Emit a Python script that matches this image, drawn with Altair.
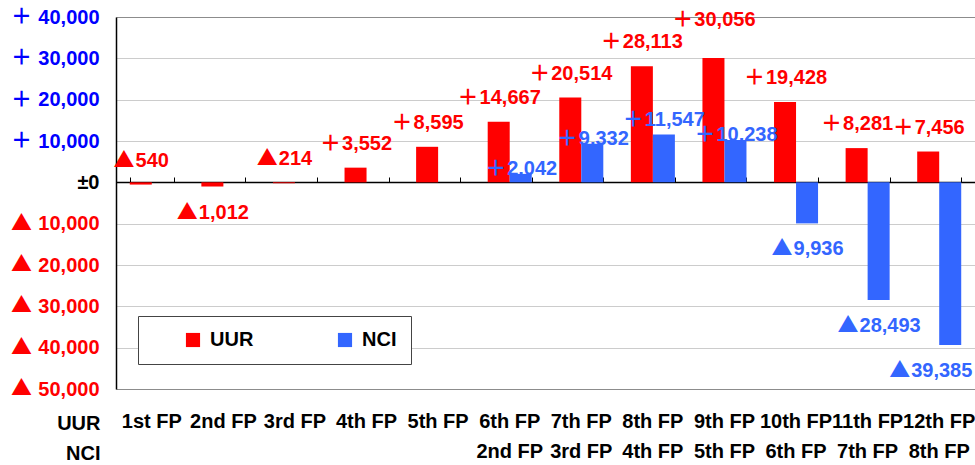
import altair as alt
import pandas as pd

uur_labels = ["1st FP", "2nd FP", "3rd FP", "4th FP", "5th FP", "6th FP",
              "7th FP", "8th FP", "9th FP", "10th FP", "11th FP", "12th FP"]
nci_labels = ["", "", "", "", "", "2nd FP", "3rd FP", "4th FP", "5th FP",
              "6th FP", "7th FP", "8th FP"]
uur_values = [-540, -1012, -214, 3552, 8595, 14667, 20514, 28113, 30056,
              19428, 8281, 7456]
nci_values = [None, None, None, None, None, 2042, 9332, 11547, 10238,
              -9936, -28493, -39385]
series_names = ["UUR", "NCI"]
series_colors = ["#FF0000", "#3366FF"]
y_ticks = [40000, 30000, 20000, 10000, 0, -10000, -20000, -30000, -40000, -50000]

categories = [f"{u}|{n}" for u, n in zip(uur_labels, nci_labels)]
rows = []
for i, (c, u, n) in enumerate(zip(categories, uur_values, nci_values)):
    rows.append({"category": c, "idx": i, "series": "UUR", "value": u})
    if n is not None:
        rows.append({"category": c, "idx": i, "series": "NCI", "value": n})
df = pd.DataFrame(rows)
tick_df = pd.DataFrame({"value": y_ticks})

FONT = "Liberation Sans"
SYM_FONT = "Noto Sans CJK JP"
FS = 20
SYM_W = 23

x_bottom = alt.X(
    "category:N", sort=categories,
    scale=alt.Scale(paddingInner=0.385, paddingOuter=0.1925),
    axis=alt.Axis(
        orient="bottom", labelExpr="split(datum.value, '|')", labelAngle=0,
        labelOverlap=False, labelBound=False, labelFlush=False,
        labelFont=FONT, labelFontSize=20, labelFontWeight="bold",
        labelColor="black", labelLineHeight=30, labelPadding=22,
        domain=False, ticks=False, grid=False,
        title=["UUR", "NCI"], titleX=-16, titleY=24, titleAlign="right",
        titleBaseline="top", titleFont=FONT, titleFontSize=20,
        titleFontWeight="bold", titleColor="black", titleLineHeight=30,
        titleAngle=0,
    ),
)
x_top = alt.X(
    "category:N", sort=categories,
    axis=alt.Axis(
        orient="top", offset=-165, labels=False, ticks=True, tickBand="extent",
        tickSize=5, tickColor="black", tickWidth=1, domain=True,
        domainColor="black", domainWidth=1.5, grid=False, title=None,
    ),
)
y_scale = alt.Scale(domain=[-50000, 40000], nice=False, zero=False)
y_enc = alt.Y(
    "value:Q", scale=y_scale,
    axis=alt.Axis(
        values=y_ticks, title=None, ticks=False, domain=True,
        domainColor="black", domainWidth=1.5,
        labelExpr="datum.value == 0 ? '±0' : format(abs(datum.value), ',')",
        labelColor={"condition": [
            {"test": "datum.value > 0", "value": "#0000FF"},
            {"test": "datum.value < 0", "value": "#FF0000"}],
            "value": "black"},
        labelFont=FONT, labelFontSize=20, labelFontWeight="bold",
        labelPadding=17,
        grid=True, gridWidth=1,
        gridColor={"condition": {"test": "datum.value == 40000 || datum.value == -50000",
                                 "value": "#8C8C8C"}, "value": "#CCCCCC"},
    ),
)
color = alt.Color(
    "series:N", scale=alt.Scale(domain=series_names, range=series_colors),
    legend=alt.Legend(
        orient="none", legendX=22, legendY=299, direction="horizontal",
        title=None, symbolType="square", symbolSize=200, symbolStrokeWidth=0,
        labelFont=FONT, labelFontSize=20, labelFontWeight="bold",
        labelColor="black", labelOffset=7, padding=14, symbolOffset=31,
        columnPadding=50, fillColor="white", strokeColor="#444444",
        labelExpr="datum.label == 'NCI' ? 'NCI\u00a0\u00a0\u00a0\u00a0\u00a0' : datum.label",
    ),
)
xoff = alt.XOffset("series:N", sort=series_names,
                   scale=alt.Scale(domain=series_names, paddingInner=0, paddingOuter=0))

base = alt.Chart(df)
bars = base.mark_bar().encode(x=x_bottom, xOffset=xoff, y=y_enc, color=color)

text_base = base.transform_calculate(
    num="format(abs(datum.value), ',')",
    sym="datum.value >= 0 ? '＋' : '▲'",
    w=f"(length(toString(abs(datum.value))) * 0.556 + (abs(datum.value) >= 1000 ? 0.278 : 0)) * {FS}",
    place="datum.series == 'NCI' ? (datum.value >= 0 ? (datum.value > 11000 ? 'nearhigh' : 'near') : (datum.idx == 11 ? 'edge' : 'below')) "
          ": (datum.value > 29000 ? 'top' : (datum.value > -1000 ? 'above' : 'below'))",
)
fill = alt.condition("datum.series == 'UUR'", alt.value("#FF0000"), alt.value("#3366FF"))
x_none = alt.X("category:N", sort=categories, axis=None)


def label_layers(place, dy, shift=0, x_enc=None):
    sub = text_base.transform_filter(f"datum.place == '{place}'")
    xe = x_enc if x_enc is not None else x_none
    sym = sub.mark_text(
        font=SYM_FONT, fontSize=FS + 1, fontWeight="bold", baseline="alphabetic",
        align="center", dy=dy + 7, dx=alt.ExprRef(f"{shift} - datum.w / 2"),
    ).encode(x=xe, xOffset=xoff, y=alt.Y("value:Q"), text="sym:N", fill=fill)
    num = sub.mark_text(
        font=FONT, fontSize=FS, fontWeight="bold", baseline="alphabetic",
        align="left", dy=dy + 7, dx=alt.ExprRef(f"{shift} + ({SYM_W} - datum.w) / 2"),
    ).encode(x=x_none, xOffset=xoff, y=alt.Y("value:Q"), text="num:N", fill=fill)
    return [sym, num]


layers = [bars]
layers += label_layers("above", -25, x_enc=x_top)
layers += label_layers("top", -39)
layers += label_layers("near", -6)
layers += label_layers("nearhigh", -16)
layers += label_layers("below", 25)
layers += label_layers("edge", 25, shift=-20)

y_sym = alt.Chart(tick_df).transform_filter("datum.value != 0").transform_calculate(
    sym="datum.value > 0 ? '＋' : '▲'"
).mark_text(
    font=SYM_FONT, fontSize=FS + 1, fontWeight="bold", baseline="middle", align="left",
).encode(
    x=alt.value(-105), y=alt.Y("value:Q"), text="sym:N",
    fill=alt.condition("datum.value > 0", alt.value("#0000FF"), alt.value("#FF0000")),
)
layers.append(y_sym)

chart = alt.layer(*layers).resolve_axis(
    x="independent"
).properties(
    width=859, height=372,
    autosize=alt.AutoSizeParams(type="none"),
    padding={"left": 116, "top": 17, "right": 0, "bottom": 76},
    background="white",
).configure_view(stroke=None)

chart.save("out.html", embed_options={"renderer": "svg", "actions": False})
